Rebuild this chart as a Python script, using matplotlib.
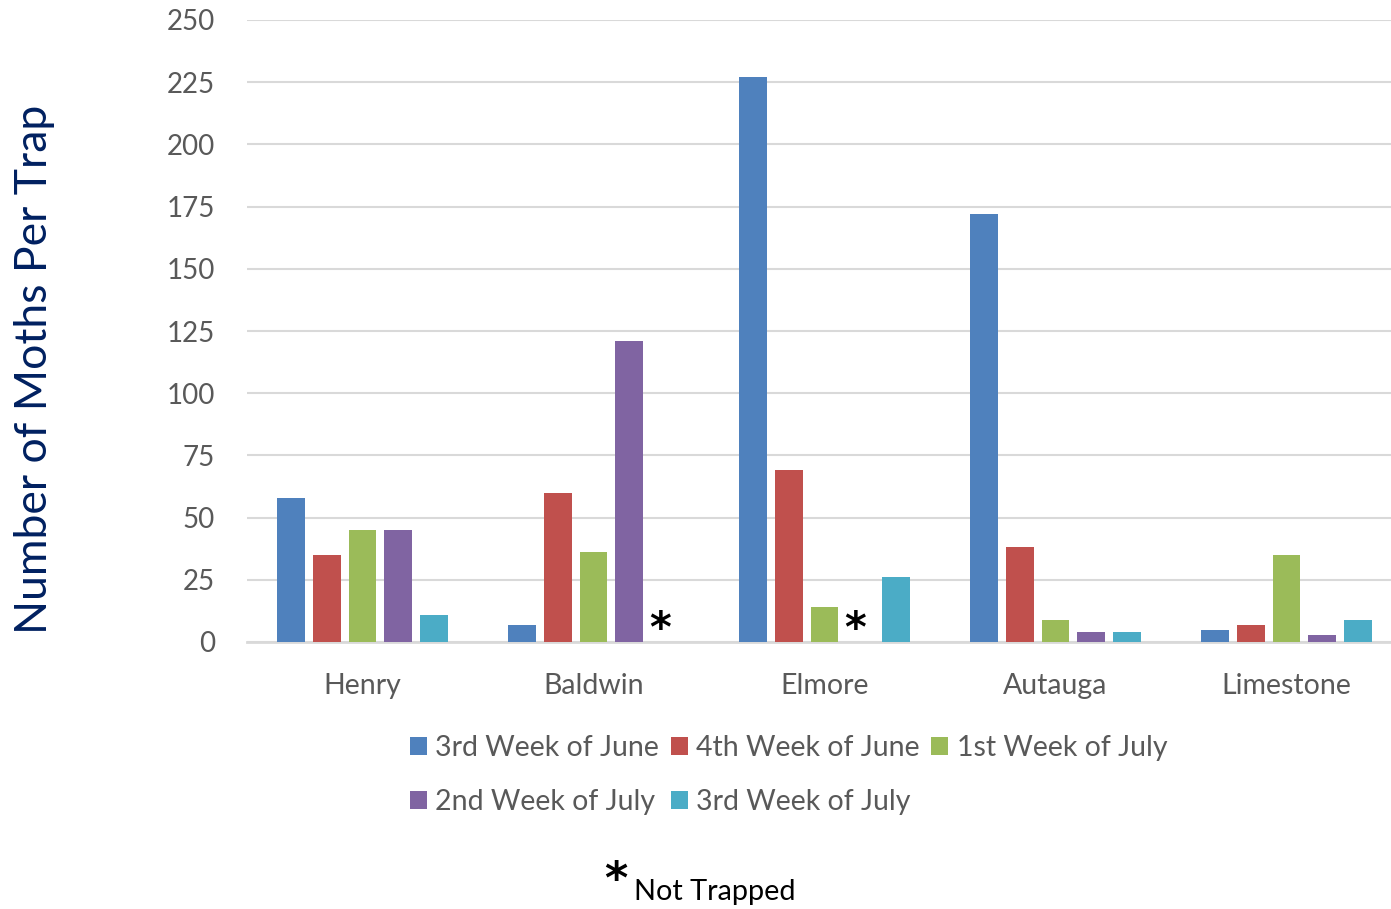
import numpy as np
import matplotlib.pyplot as plt

plt.rcParams['font.family'] = ['Lato', 'DejaVu Sans']

counties = ['Henry', 'Baldwin', 'Elmore', 'Autauga', 'Limestone']
weeks = ['3rd Week of June', '4th Week of June', '1st Week of July',
         '2nd Week of July', '3rd Week of July']

# None = not trapped
week3_june = [58, 7, 227, 172, 5]
week4_june = [35, 60, 69, 38, 7]
week1_july = [45, 36, 14, 9, 35]
week2_july = [45, 121, None, 4, 3]
week3_july = [11, None, 26, 4, 9]

series = [week3_june, week4_june, week1_july, week2_july, week3_july]
colors = ['#4F81BD', '#C0504D', '#9BBB59', '#8064A2', '#4BACC6']

fig = plt.figure(figsize=(13.91, 9.09), dpi=100)
ax = fig.add_axes([247 / 1391, 1 - 642 / 909, 1155 / 1391, 622 / 909])

x = np.arange(len(counties))
step = 0.154
width = 0.121
handles = []
for i, (vals, c) in enumerate(zip(series, colors)):
    pos = x + (i - 2) * step
    h = np.array([np.nan if v is None else v for v in vals], dtype=float)
    b = ax.bar(pos, np.nan_to_num(h), width, color=c, label=weeks[i], zorder=3)
    handles.append(b)
    for p, v in zip(pos, vals):
        if v is None:
            # asterisk marks a week that was not trapped
            ax.text(p - 0.02, -3.5, '*', ha='center', va='bottom', fontsize=30,
                    fontweight='bold', color='black', family='DejaVu Sans')

ax.set_xlim(-0.5, 4.5)
ax.set_ylim(0, 250)
ax.set_yticks(np.arange(0, 251, 25))
ax.set_xticks(x)
ax.set_xticklabels(counties, fontsize=20.5)
ax.tick_params(axis='both', length=0, colors='#595959')
ax.tick_params(axis='y', labelsize=20, pad=23)
ax.tick_params(axis='x', pad=22)
ax.grid(axis='y', color='#D9D9D9', linewidth=1.5, zorder=0)
for s in ['top', 'right', 'left']:
    ax.spines[s].set_visible(False)
ax.spines['bottom'].set_color('#D9D9D9')
ax.spines['bottom'].set_linewidth(2)

fig.text(35 / 1391, 1 - 369 / 909, 'Number of Moths Per Trap', fontsize=32,
         color='#002060', rotation=90, ha='center', va='center')

order = [0, 3, 1, 4, 2]
leg = fig.legend([handles[k] for k in order], [weeks[k] for k in order],
                 ncol=3, loc='upper left', bbox_to_anchor=(384 / 1391, 1 - 709 / 909),
                 frameon=False, fontsize=20.5, handlelength=0.6, handleheight=0.6,
                 handletextpad=0.3, columnspacing=0.4, labelspacing=1.0,
                 labelcolor='#595959')

fig.text(604 / 1391, 1 - 893 / 909, '*', fontsize=32, fontweight='bold',
         family='DejaVu Sans', va='baseline')
fig.text(634 / 1391, 1 - 900 / 909, 'Not Trapped', fontsize=20.8, va='baseline')

fig.savefig('out.png', dpi=100)
